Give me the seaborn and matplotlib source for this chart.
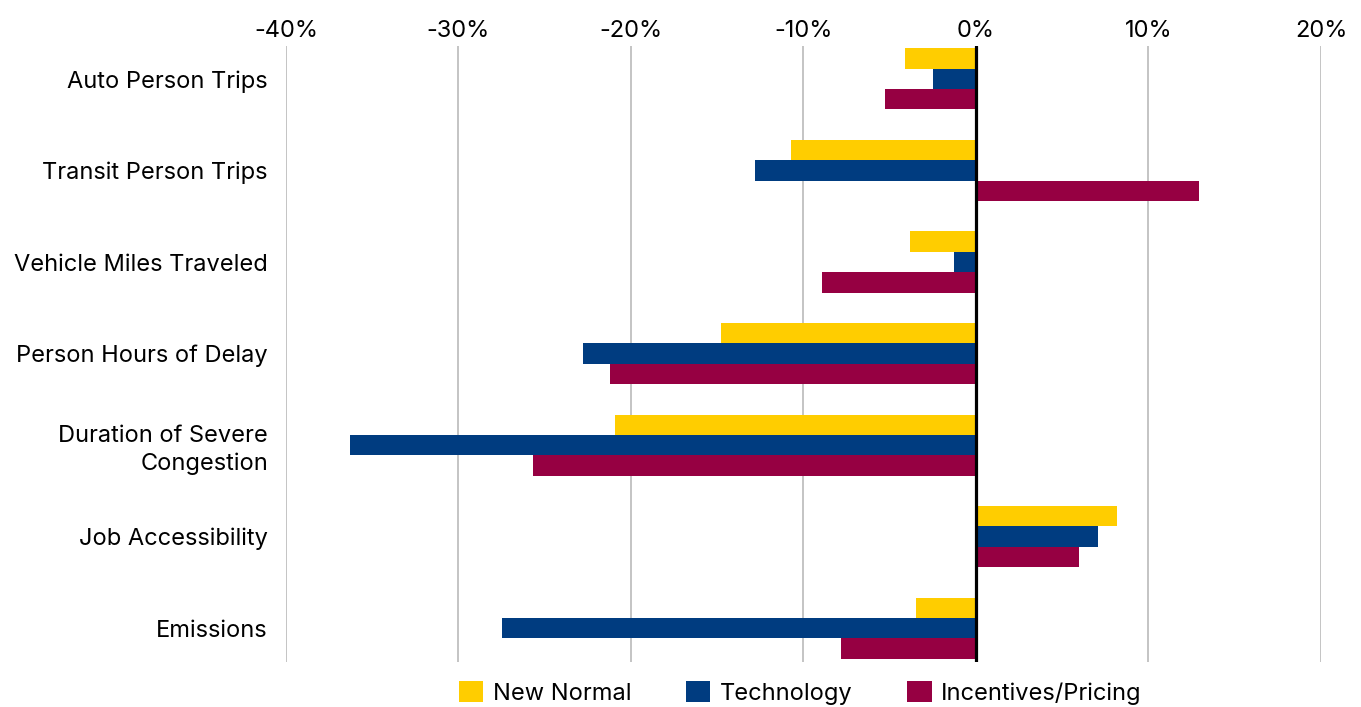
import matplotlib
matplotlib.use("Agg")
import matplotlib.pyplot as plt
import seaborn as sns
import pandas as pd
from matplotlib.ticker import FuncFormatter, MultipleLocator
from matplotlib.patches import Patch

categories = ["Auto Person Trips", "Transit Person Trips", "Vehicle Miles Traveled",
              "Person Hours of Delay", "Duration of Severe\nCongestion",
              "Job Accessibility", "Emissions"]
new_normal = [-4.1, -10.7, -3.8, -14.8, -20.9, 8.2, -3.5]
technology = [-2.5, -12.8, -1.3, -22.8, -36.3, 7.1, -27.5]
incentives = [-5.3, 12.9, -8.9, -21.2, -25.7, 6.0, -7.8]
series_names = ["New Normal", "Technology", "Incentives/Pricing"]
colors = ["#FFCD00", "#003C80", "#960042"]

df = pd.DataFrame({"category": categories, series_names[0]: new_normal,
                   series_names[1]: technology, series_names[2]: incentives})
long = df.melt(id_vars="category", var_name="scenario", value_name="value")

sns.set_theme(style="white")
plt.rcParams["font.family"] = ["Inter", "DejaVu Sans"]

fs = 17
fig = plt.figure(figsize=(13.61, 7.07), dpi=100)
ax = fig.add_axes([286/1361, 1-662/707, (1321-286)/1361, (662-46)/707])

sns.barplot(data=long, x="value", y="category", hue="scenario", orient="h",
            palette=colors, hue_order=series_names, order=categories,
            width=0.667, gap=0, saturation=1, linewidth=0, ax=ax, legend=False)

ax.set_xlim(-40, 20)
ax.set_ylim(6.37, -0.36)
ax.xaxis.set_major_locator(MultipleLocator(10))
ax.xaxis.set_major_formatter(FuncFormatter(lambda v, p: f"{v:.0f}%"))
ax.xaxis.tick_top()
ax.tick_params(axis="x", length=0, pad=3, labelsize=fs, colors="#000000")
ax.tick_params(axis="y", length=0, pad=13, labelsize=fs, colors="#000000")
for lab in ax.get_yticklabels():
    lab.set_horizontalalignment("right")
    lab.set_multialignment("right")
    lab.set_linespacing(1.3)
ax.set_xlabel("")
ax.set_ylabel("")
ax.grid(axis="x", color="#BFBFBF", linewidth=1.3)
ax.grid(axis="y", visible=False)
ax.set_axisbelow(True)
for s in ax.spines.values():
    s.set_visible(False)
ax.axvline(0, color="black", linewidth=2.3, zorder=5)

handles = [Patch(facecolor=c, edgecolor="none", label=n) for c, n in zip(colors, series_names)]
fig.legend(handles=handles, loc="center", bbox_to_anchor=(800/1361, 1-693/707), ncol=3,
           frameon=False, fontsize=fs, handlelength=1.05, handleheight=1.0,
           handletextpad=0.4, columnspacing=2.3, borderaxespad=0, labelcolor="black")

fig.savefig("out.png", dpi=100)
